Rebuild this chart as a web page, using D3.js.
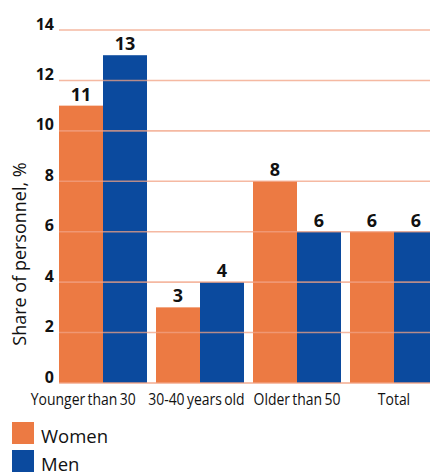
<!DOCTYPE html>
<html>
<head>
<meta charset="utf-8">
<script src="https://cdn.jsdelivr.net/npm/d3@7"></script>
<style>
  html, body { margin: 0; padding: 0; background: #ffffff; }
  svg { display: block; }
  text { font-family: "Open Sans", "DejaVu Sans", sans-serif; fill: #111; }
</style>
</head>
<body>
<svg id="chart" width="430" height="475"></svg>
<script>
// Share of personnel by age group, women vs men
const categories = ["Younger than 30", "30-40 years old", "Older than 50", "Total"];
const seriesNames = ["Women", "Men"];
const women = [11, 3, 8, 6];
const men = [13, 4, 6, 6];
const yTicks = [0, 2, 4, 6, 8, 10, 12, 14];
const colors = { Women: "#ec7a43", Men: "#0b4a9e" };

const svg = d3.select("#chart");

const y = d3.scaleLinear().domain([0, 14]).range([383, 30]);

// groups run off the right edge of the frame
const x0 = d3.scaleBand().domain(categories).range([59, 438]).paddingInner(9 / 97).paddingOuter(0);
const x1 = d3.scaleBand().domain(seriesNames).range([0, x0.bandwidth()]).padding(0);

const rows = categories.map((c, i) => ({ cat: c, Women: women[i], Men: men[i] }));

// bars
const g = svg.append("g");
const groups = g.selectAll("g.grp").data(rows).join("g")
  .attr("class", "grp")
  .attr("transform", d => `translate(${x0(d.cat)},0)`);

groups.selectAll("rect").data(d => seriesNames.map(s => ({ s, v: d[s] }))).join("rect")
  .attr("x", d => x1(d.s))
  .attr("y", d => y(d.v))
  .attr("width", x1.bandwidth())
  .attr("height", d => y(0) - y(d.v))
  .attr("fill", d => colors[d.s]);

// gridlines drawn over the bars
const grid = svg.append("g");
grid.selectAll("line").data(yTicks).join("line")
  .attr("x1", 59).attr("x2", 430)
  .attr("y1", d => y(d)).attr("y2", d => y(d))
  .attr("stroke", "#f2a283")
  .attr("stroke-opacity", d => d === 0 ? 0.9 : 0.75)
  .attr("stroke-width", 1.6);

// value labels
groups.selectAll("text.val").data(d => seriesNames.map(s => ({ s, v: d[s] }))).join("text")
  .attr("class", "val")
  .attr("x", d => x1(d.s) + x1.bandwidth() / 2)
  .attr("y", d => y(d.v) - 5)
  .attr("text-anchor", "middle")
  .attr("font-size", 18)
  .attr("font-weight", 700)
  .text(d => d.v);

// y axis labels
const yAxis = d3.axisLeft(y).tickValues(yTicks).tickSize(0).tickPadding(6);
const ya = svg.append("g").attr("transform", "translate(59,0)").call(yAxis);
ya.select(".domain").remove();
ya.selectAll("text")
  .attr("font-size", 16)
  .attr("font-weight", 700)
  .attr("fill", "#222")
  .attr("dy", 0)
  .attr("y", -1)
  .attr("x", -5)
  .style("font-family", "'Open Sans', sans-serif");

// y axis title
svg.append("text")
  .attr("transform", "translate(26,254) rotate(-90)")
  .attr("text-anchor", "middle")
  .attr("font-size", 18)
  .text("Share of personnel, %");

// x axis labels, horizontally condensed
const xScaleX = 0.845;
const xAxis = d3.axisBottom(x0).tickSize(0).tickPadding(0);
const xa = svg.append("g").attr("transform", "translate(0,383)").call(xAxis);
xa.select(".domain").remove();
const xl = xa.selectAll("text")
  .attr("y", 22).attr("dy", 0)
  .attr("font-size", 16.5)
  .attr("fill", "#111")
  .attr("word-spacing", -1.5)
  .attr("transform", `scale(${xScaleX},1)`)
  .style("font-family", "'Open Sans', sans-serif");

// push labels left where they would collide with their right neighbour
const nodes = xl.nodes();
const shift = nodes.map(() => 0);
for (let i = nodes.length - 2; i >= 0; i--) {
  const a = nodes[i].getBBox(), b = nodes[i + 1].getBBox();
  const tA = nodes[i].parentNode.transform.baseVal.consolidate().matrix.e;
  const tB = nodes[i + 1].parentNode.transform.baseVal.consolidate().matrix.e;
  const rightA = tA + (a.x + a.width) * xScaleX;
  const leftB = tB + shift[i + 1] + b.x * xScaleX;
  const overlap = rightA - (leftB - 9);
  if (overlap > 0) {
    shift[i] = -overlap;
    nodes[i].setAttribute("x", -overlap / xScaleX);
  }
}

// legend
const legend = svg.append("g");
const li = legend.selectAll("g").data(seriesNames).join("g")
  .attr("transform", (d, i) => `translate(12,${422 + i * 28})`);
li.append("rect").attr("width", 22).attr("height", 22).attr("fill", d => colors[d]);
li.append("text").attr("x", 29).attr("y", 21).attr("font-size", 18.5).attr("font-weight", 500).text(d => d);
</script>
</body>
</html>
